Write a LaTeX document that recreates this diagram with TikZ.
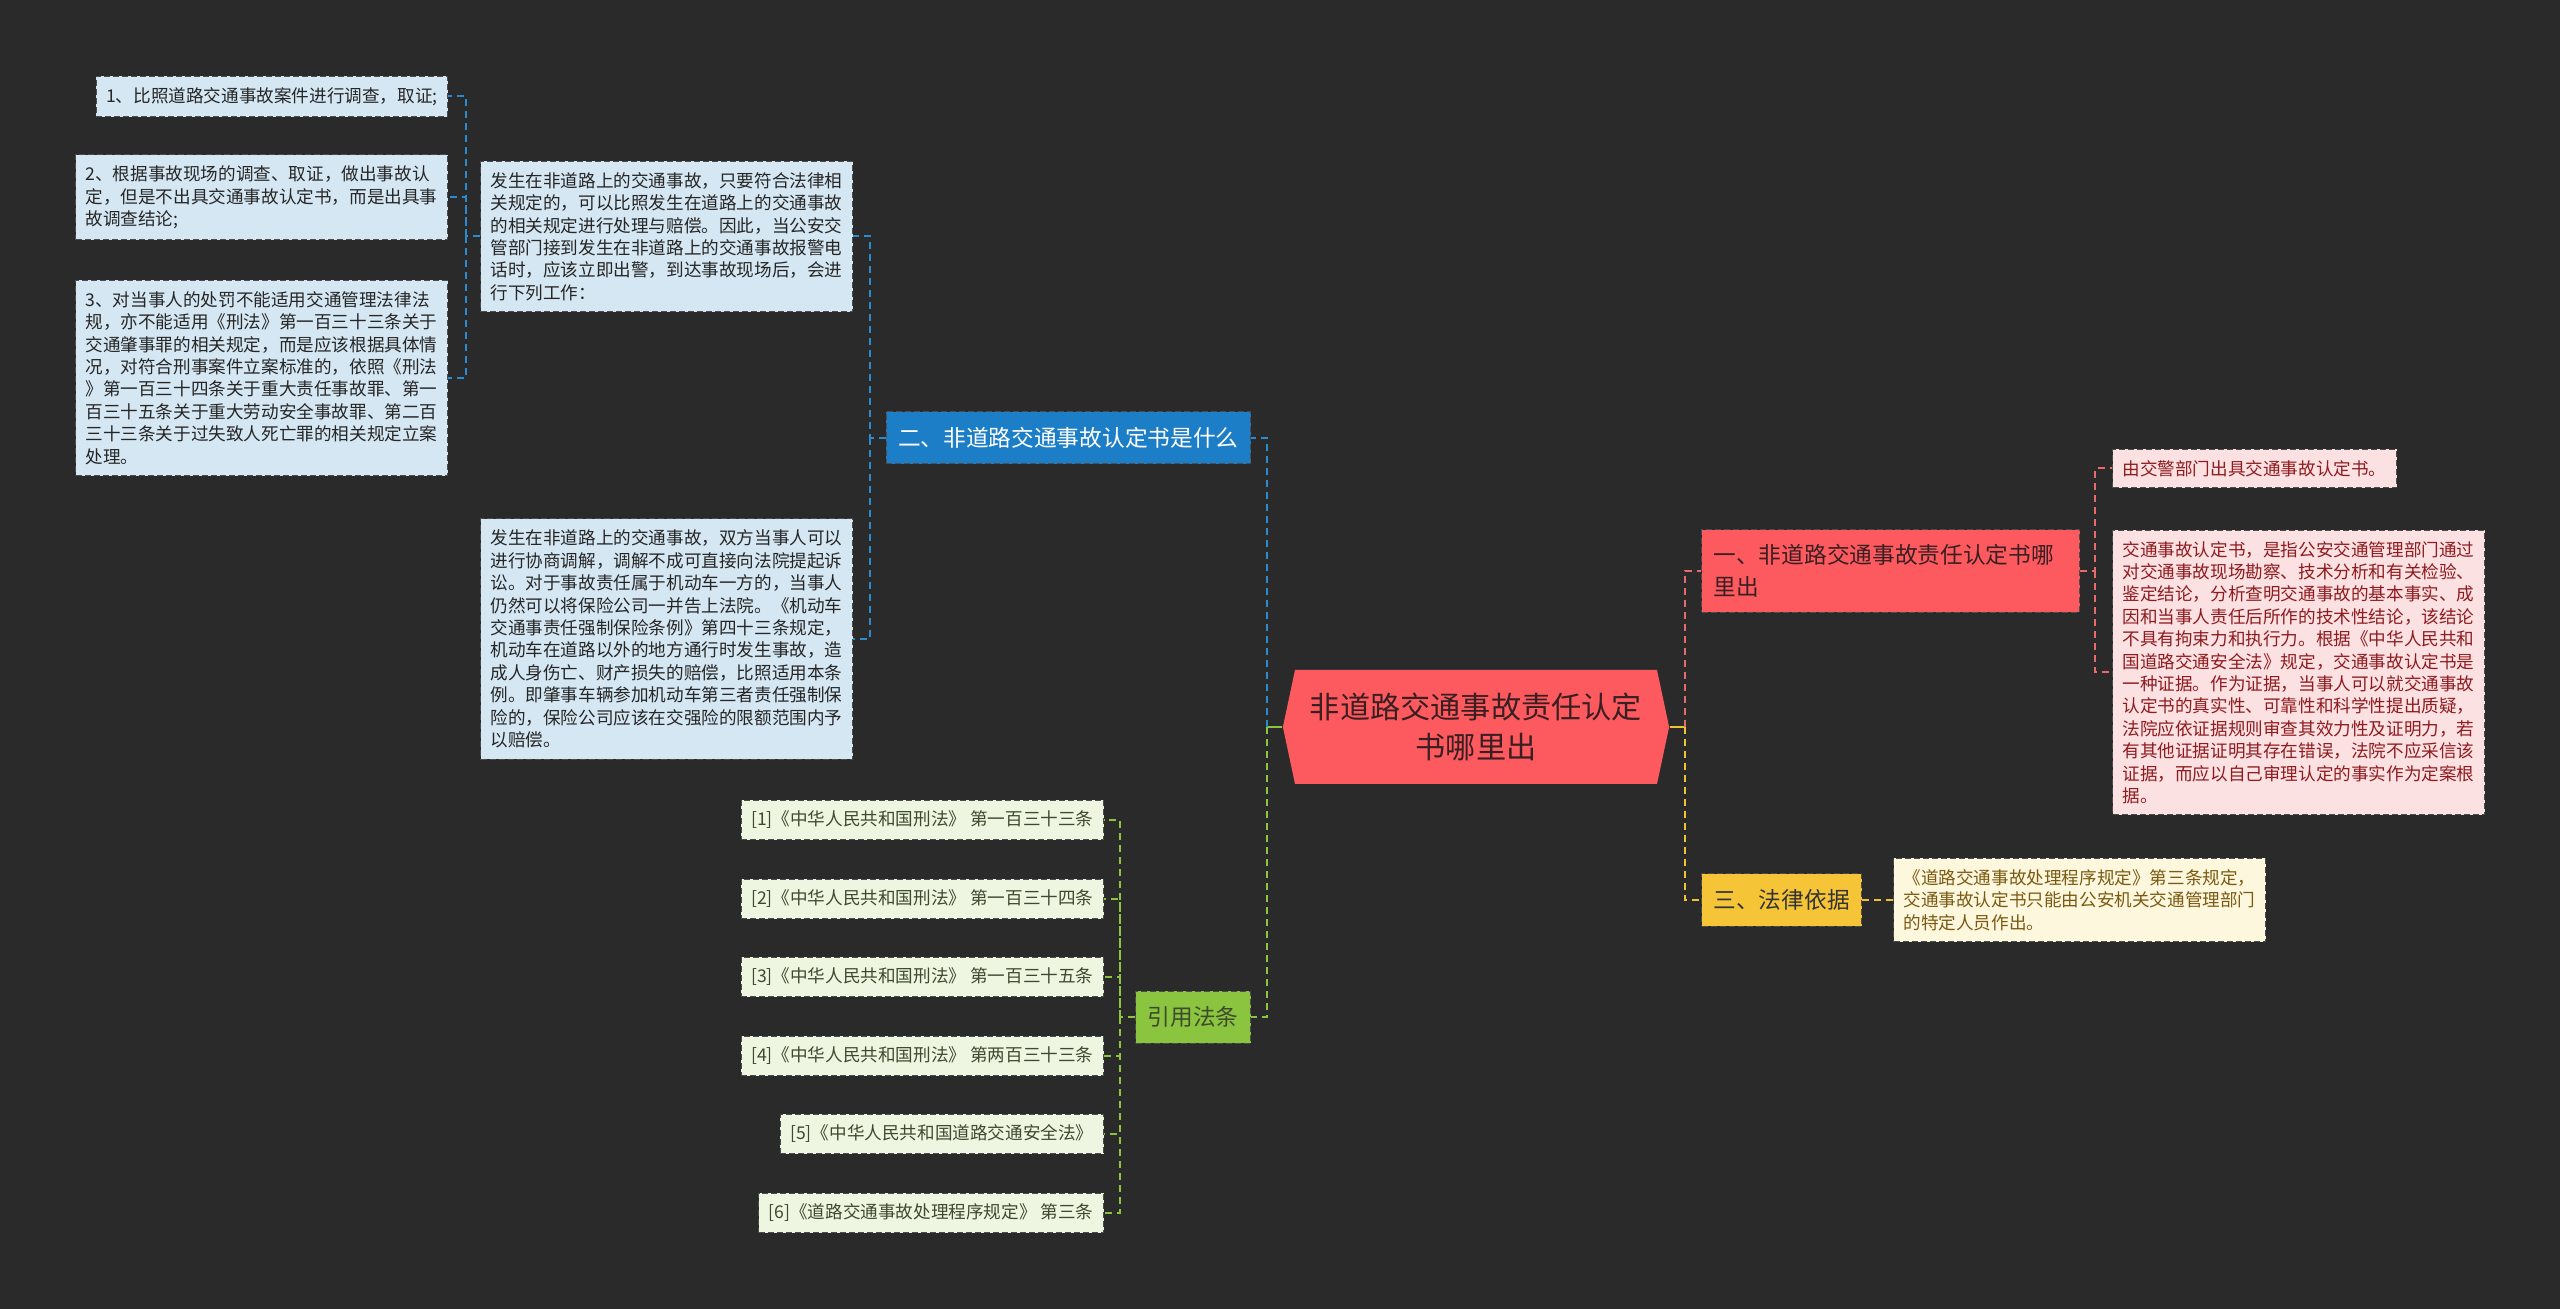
\documentclass[tikz,border=0pt]{standalone}
\usepackage{fontspec}
\setmainfont{Noto Sans CJK SC}
\usepackage{tikz}
\usetikzlibrary{shapes.symbols}

\definecolor{bgdark}{HTML}{2A2A2A}
\definecolor{hubred}{HTML}{FD5A5F}
\definecolor{hubtext}{HTML}{3A1F22}
\definecolor{bluemain}{HTML}{1C7EC6}
\definecolor{bluelight}{HTML}{D5E7F3}
\definecolor{blueline}{HTML}{2A8BCF}
\definecolor{redlight}{HTML}{FCE1E2}
\definecolor{redline}{HTML}{E86B6B}
\definecolor{redtext}{HTML}{8E1B1F}
\definecolor{yellowmain}{HTML}{F6C437}
\definecolor{yellowlight}{HTML}{FDF7DD}
\definecolor{yellowline}{HTML}{EFC232}
\definecolor{yellowtext}{HTML}{7A5A12}
\definecolor{greenmain}{HTML}{8BC53F}
\definecolor{greenlight}{HTML}{EEF5E1}
\definecolor{greentext}{HTML}{3E4A2E}

\tikzset{
  link/.style={line width=1pt, dash pattern=on 3.5pt off 2.5pt},
  leafbox/.style={draw=black!70, dash pattern=on 3pt off 1.5pt, line width=0.5pt,
    inner xsep=5pt, inner ysep=5.5pt, align=left,
    font=\fontsize{8.8pt}{11.2pt}\selectfont},
  topicbox/.style={draw=black!70, dash pattern=on 3pt off 1.5pt, line width=0.5pt,
    inner xsep=6pt, minimum height=26pt, align=left,
    font=\fontsize{11.35pt}{15.8pt}\selectfont},
}

\begin{document}
\begin{tikzpicture}[x=0.5pt, y=-0.5pt]
        \fill[bgdark] (0,0) rectangle (2560,1309);
        \useasboundingbox (0,0) rectangle (2560,1309);

        \node[signal, signal to=west and east, signal pointer angle=156,
          fill=hubred, text=hubtext, text width=167pt, align=center,
          inner xsep=7pt, minimum height=57pt,
          font=\fontsize{15.1pt}{20pt}\selectfont] (hub) at (1476,727)
          {非道路交通事故责任认定\\书哪里出};

        \node[topicbox, fill=bluemain, text=white, anchor=east] (q2) at (1251,438)
          {二、非道路交通事故认定书是什么};
        \node[topicbox, fill=greenmain, text=greentext, anchor=east] (cite) at (1251,1017)
          {引用法条};
        \node[topicbox, fill=hubred, text=hubtext, anchor=west, text width=177pt,
          inner ysep=7.4pt] (q1) at (1701,571)
          {一、非道路交通事故责任认定书哪\\里出};
        \node[topicbox, fill=yellowmain, text=black!80, anchor=west] (q3) at (1701,900)
          {三、法律依据};

        \node[leafbox, fill=bluelight, text=black!85, anchor=east] (s1) at (448,96.5)
          {1、比照道路交通事故案件进行调查，取证;};
        \node[leafbox, fill=bluelight, text=black!85, anchor=east, text width=176pt] (s2) at (448,197.5)
          {2、根据事故现场的调查、取证，做出事故认\\定，但是不出具交通事故认定书，而是出具事\\故调查结论;};
        \node[leafbox, fill=bluelight, text=black!85, anchor=east, text width=176pt] (s3) at (448,378)
          {3、对当事人的处罚不能适用交通管理法律法\\规，亦不能适用《刑法》第一百三十三条关于\\交通肇事罪的相关规定，而是应该根据具体情\\况，对符合刑事案件立案标准的，依照《刑法\\》第一百三十四条关于重大责任事故罪、第一\\百三十五条关于重大劳动安全事故罪、第二百\\三十三条关于过失致人死亡罪的相关规定立案\\处理。};

        \node[leafbox, fill=bluelight, text=black!85, anchor=west, text width=176pt] (ba) at (480,236.5)
          {发生在非道路上的交通事故，只要符合法律相\\关规定的，可以比照发生在道路上的交通事故\\的相关规定进行处理与赔偿。因此，当公安交\\管部门接到发生在非道路上的交通事故报警电\\话时，应该立即出警，到达事故现场后，会进\\行下列工作：};
        \node[leafbox, fill=bluelight, text=black!85, anchor=west, text width=176pt] (bb) at (480,639)
          {发生在非道路上的交通事故，双方当事人可以\\进行协商调解，调解不成可直接向法院提起诉\\讼。对于事故责任属于机动车一方的，当事人\\仍然可以将保险公司一并告上法院。《机动车\\交通事责任强制保险条例》第四十三条规定，\\机动车在道路以外的地方通行时发生事故，造\\成人身伤亡、财产损失的赔偿，比照适用本条\\例。即肇事车辆参加机动车第三者责任强制保\\险的，保险公司应该在交强险的限额范围内予\\以赔偿。};

        \node[leafbox, fill=redlight, text=redtext, anchor=west] (r1) at (2112,468.5)
          {由交警部门出具交通事故认定书。};
        \node[leafbox, fill=redlight, text=redtext, anchor=west, text width=176pt] (r2) at (2112,672.5)
          {交通事故认定书，是指公安交通管理部门通过\\对交通事故现场勘察、技术分析和有关检验、\\鉴定结论，分析查明交通事故的基本事实、成\\因和当事人责任后所作的技术性结论，该结论\\不具有拘束力和执行力。根据《中华人民共和\\国道路交通安全法》规定，交通事故认定书是\\一种证据。作为证据，当事人可以就交通事故\\认定书的真实性、可靠性和科学性提出质疑，\\法院应依证据规则审查其效力性及证明力，若\\有其他证据证明其存在错误，法院不应采信该\\证据，而应以自己审理认定的事实作为定案根\\据。};

        \node[leafbox, fill=yellowlight, text=yellowtext, anchor=west, text width=176pt] (y1) at (1893,900)
          {《道路交通事故处理程序规定》第三条规定，\\交通事故认定书只能由公安机关交通管理部门\\的特定人员作出。};

        \node[leafbox, fill=greenlight, text=greentext, anchor=east] (g1) at (1104,820)
          {[1]《中华人民共和国刑法》 第一百三十三条};
        \node[leafbox, fill=greenlight, text=greentext, anchor=east] (g2) at (1104,899)
          {[2]《中华人民共和国刑法》 第一百三十四条};
        \node[leafbox, fill=greenlight, text=greentext, anchor=east] (g3) at (1104,977)
          {[3]《中华人民共和国刑法》 第一百三十五条};
        \node[leafbox, fill=greenlight, text=greentext, anchor=east] (g4) at (1104,1056)
          {[4]《中华人民共和国刑法》 第两百三十三条};
        \node[leafbox, fill=greenlight, text=greentext, anchor=east] (g5) at (1104,1134)
          {[5]《中华人民共和国道路交通安全法》};
        \node[leafbox, fill=greenlight, text=greentext, anchor=east] (g6) at (1104,1213)
          {[6]《道路交通事故处理程序规定》 第三条};

        \coordinate (jl) at (1267,727);
        \coordinate (jr) at (1685,727);
        \coordinate (bj) at (870,438);
        \coordinate (aj) at (466,236.5);
        \coordinate (rj) at (2095,571);
        \coordinate (gj) at (1120,1017);

        \draw[greenmain, line width=1pt] (hub.west) -- (jl);
        \draw[yellowline, line width=1pt] (hub.east) -- (jr);
        \draw[link, blueline] (jl) |- (q2.east);
        \draw[link, greenmain] (jl) |- (cite.east);
        \draw[link, redline] (jr) |- (q1.west);
        \draw[link, yellowline] (jr) |- (q3.west);

        \draw[link, blueline] (q2.west) -- (bj) |- (ba.east);
        \draw[link, blueline] (bj) |- (bb.east);
        \draw[link, blueline] (ba.west) -- (aj) |- (s1.east);
        \draw[link, blueline] (aj) |- (s2.east);
        \draw[link, blueline] (aj) |- (s3.east);

        \draw[link, redline] (q1.east) -- (rj) |- (r1.west);
        \draw[link, redline] (rj) |- (r2.west);

        \draw[link, yellowline] (q3.east) -- (y1.west);

        \draw[link, greenmain] (cite.west) -- (gj) |- (g1.east);
        \draw[link, greenmain] (gj) |- (g2.east);
        \draw[link, greenmain] (gj) |- (g3.east);
        \draw[link, greenmain] (gj) |- (g4.east);
        \draw[link, greenmain] (gj) |- (g5.east);
        \draw[link, greenmain] (gj) |- (g6.east);
    \end{tikzpicture}
\end{document}
